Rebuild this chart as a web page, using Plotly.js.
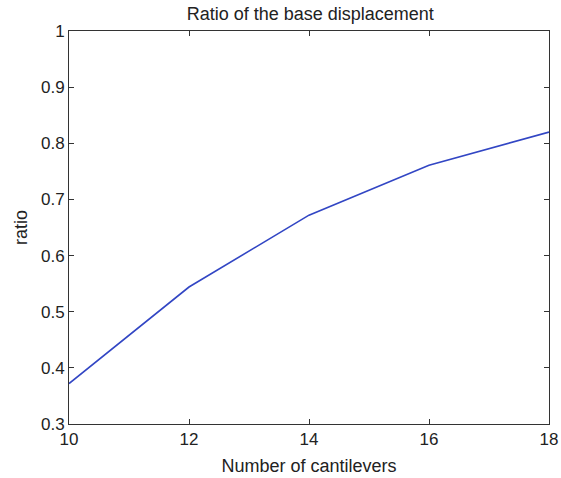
<!DOCTYPE html>
<html>
<head>
<meta charset="utf-8">
<script src="https://cdn.plot.ly/plotly-3.0.1.min.js"></script>
<style>html,body{margin:0;padding:0;background:#fff;}#chart{width:561px;height:478px;}</style>
</head>
<body>
<div id="chart"></div>
<script>
const cantilevers = [10, 12, 14, 16, 18];
const ratio = [0.372, 0.544, 0.672, 0.761, 0.820];
const xTicks = [10, 12, 14, 16, 18];
const yTicks = [0.3, 0.4, 0.5, 0.6, 0.7, 0.8, 0.9, 1];
const yTickLabels = ['0.3', '0.4', '0.5', '0.6', '0.7', '0.8', '0.9', '1'];

const font = {family: 'Liberation Sans, Arial, sans-serif', color: '#222'};

Plotly.newPlot('chart', [{
  x: cantilevers, y: ratio, type: 'scatter', mode: 'lines',
  line: {color: '#3246c4', width: 1.6}
}], {
  width: 561, height: 478,
  margin: {l: 69, r: 12, t: 31, b: 54},
  paper_bgcolor: '#fff', plot_bgcolor: '#fff',
  showlegend: false,
  font: Object.assign({size: 17}, font),
  title: {text: 'Ratio of the base displacement', font: Object.assign({size: 18}, font), x: 0.553, xanchor: 'center', y: 0.971, yanchor: 'middle'},
  xaxis: {
    range: [10, 18], tickvals: xTicks, ticktext: xTicks.map(String),
    ticks: 'inside', ticklen: 5, tickcolor: '#333', mirror: 'ticks',
    showline: true, linecolor: '#333', linewidth: 1, showgrid: false, zeroline: false,
    tickfont: Object.assign({size: 17}, font),
    title: {text: 'Number of cantilevers', font: Object.assign({size: 18}, font), standoff: 10}
  },
  yaxis: {
    range: [0.3, 1], tickvals: yTicks, ticktext: yTickLabels,
    ticks: 'inside', ticklen: 5, tickcolor: '#333', mirror: 'ticks',
    showline: true, linecolor: '#333', linewidth: 1, showgrid: false, zeroline: false,
    tickfont: Object.assign({size: 17}, font),
    title: {text: 'ratio', font: Object.assign({size: 18}, font), standoff: 8}
  }
}, {staticPlot: true, displayModeBar: false});
</script>
</body>
</html>
